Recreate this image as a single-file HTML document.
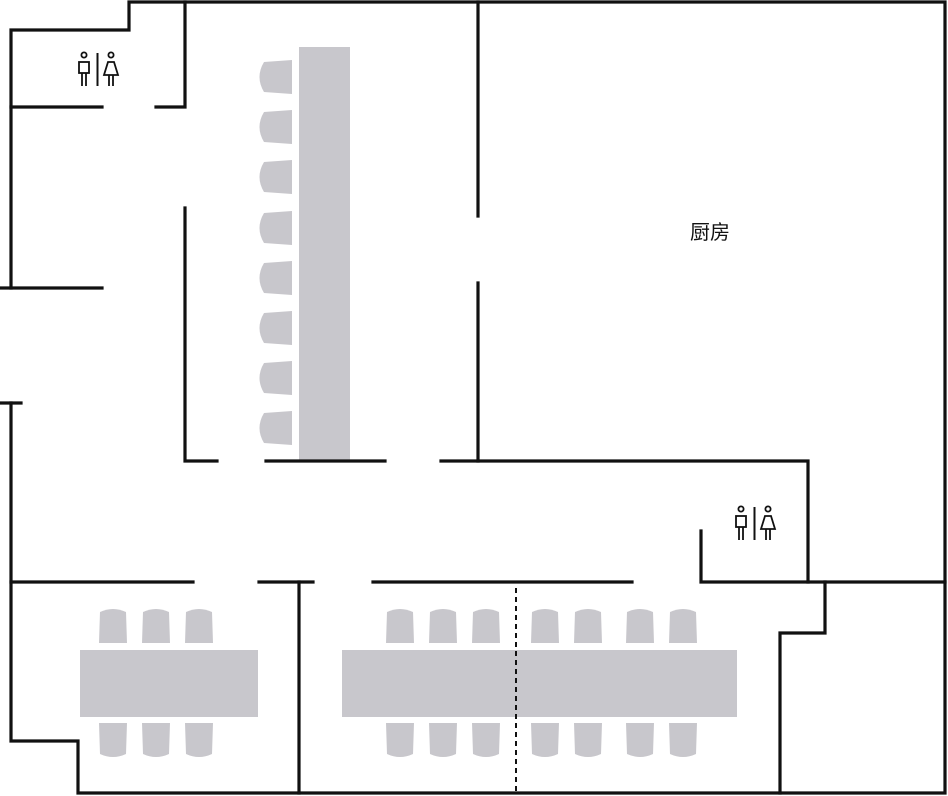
<!DOCTYPE html>
<html><head><meta charset="utf-8"><style>
html,body{margin:0;padding:0;background:#fff;}
svg{display:block}
</style></head><body>
<svg width="948" height="796" viewBox="0 0 948 796" xmlns="http://www.w3.org/2000/svg">
<defs>
<g id="wc" fill="none" stroke="#111" stroke-width="1.8">
<circle cx="6" cy="3" r="2.6"/>
<rect x="1" y="10" width="10" height="11"/>
<line x1="4" y1="21" x2="4" y2="34"/><line x1="8" y1="21" x2="8" y2="34"/>
<line x1="19.5" y1="1" x2="19.5" y2="34" stroke-width="2"/>
<circle cx="33" cy="3" r="2.6"/>
<path d="M30,10 L36,10 L40,23 L26,23 Z"/>
<line x1="31" y1="23" x2="31" y2="34"/><line x1="35" y1="23" x2="35" y2="34"/>
</g>
<path id="sc" d="M292,-17 L264,-15 Q255,0 264,15 L292,17 Z" fill="#c8c7cc"/>
<path id="tc" d="M2,35 L3,4 Q16,-2 29,4 L30,35 Z" fill="#c8c7cc"/>
<path id="bc" d="M2,0 L30,0 L29,31 Q16,37 3,31 Z" fill="#c8c7cc"/>
</defs>

<!-- furniture -->
<rect x="299" y="47" width="51" height="413" fill="#c8c7cc"/>
<g>
<use href="#sc" y="77"/><use href="#sc" y="127"/><use href="#sc" y="177"/><use href="#sc" y="228"/>
<use href="#sc" y="278"/><use href="#sc" y="328"/><use href="#sc" y="378"/><use href="#sc" y="428"/>
</g>
<rect x="80" y="650" width="178" height="67" fill="#c8c7cc"/>
<rect x="342" y="650" width="395" height="67" fill="#c8c7cc"/>
<g>
<use href="#tc" x="97" y="608"/><use href="#tc" x="140" y="608"/><use href="#tc" x="183" y="608"/>
<use href="#bc" x="97" y="723"/><use href="#bc" x="140" y="723"/><use href="#bc" x="183" y="723"/>
<use href="#tc" x="384" y="608"/><use href="#tc" x="427" y="608"/><use href="#tc" x="470" y="608"/>
<use href="#tc" x="529" y="608"/><use href="#tc" x="572" y="608"/><use href="#tc" x="624" y="608"/><use href="#tc" x="667" y="608"/>
<use href="#bc" x="384" y="723"/><use href="#bc" x="427" y="723"/><use href="#bc" x="470" y="723"/>
<use href="#bc" x="529" y="723"/><use href="#bc" x="572" y="723"/><use href="#bc" x="624" y="723"/><use href="#bc" x="667" y="723"/>
</g>

<!-- walls -->
<g fill="none" stroke="#111" stroke-width="3.2" stroke-linecap="square" stroke-linejoin="miter">
<polyline points="11,288 11,30 129,30 129,2 945,2 945,793 78,793 78,741 11,741 11,403"/>
<line x1="1" y1="288" x2="102" y2="288"/>
<line x1="1" y1="403" x2="21" y2="403"/>
<line x1="11" y1="107" x2="102" y2="107"/>
<polyline points="156,107 185,107 185,2"/>
<polyline points="185,208 185,461 217,461"/>
<line x1="266" y1="461" x2="385" y2="461"/>
<polyline points="441,461 808,461 808,582"/>
<line x1="478" y1="2" x2="478" y2="216"/>
<line x1="478" y1="283" x2="478" y2="461"/>
<polyline points="701,531 701,582 945,582"/>
<line x1="11" y1="582" x2="193" y2="582"/>
<line x1="259" y1="582" x2="313" y2="582"/>
<line x1="373" y1="582" x2="632" y2="582"/>
<line x1="299" y1="582" x2="299" y2="793"/>
<polyline points="825,582 825,633 780,633 780,793"/>
</g>
<line x1="516" y1="588" x2="516" y2="793" stroke="#111" stroke-width="2" stroke-dasharray="5,4"/>

<use href="#wc" x="78" y="52"/>
<use href="#wc" x="735" y="506"/>

<text x="710" y="239" font-family="'Liberation Sans','Noto Sans CJK SC',sans-serif" font-size="20" text-anchor="middle" fill="#111">厨房</text>
</svg>
</body></html>
